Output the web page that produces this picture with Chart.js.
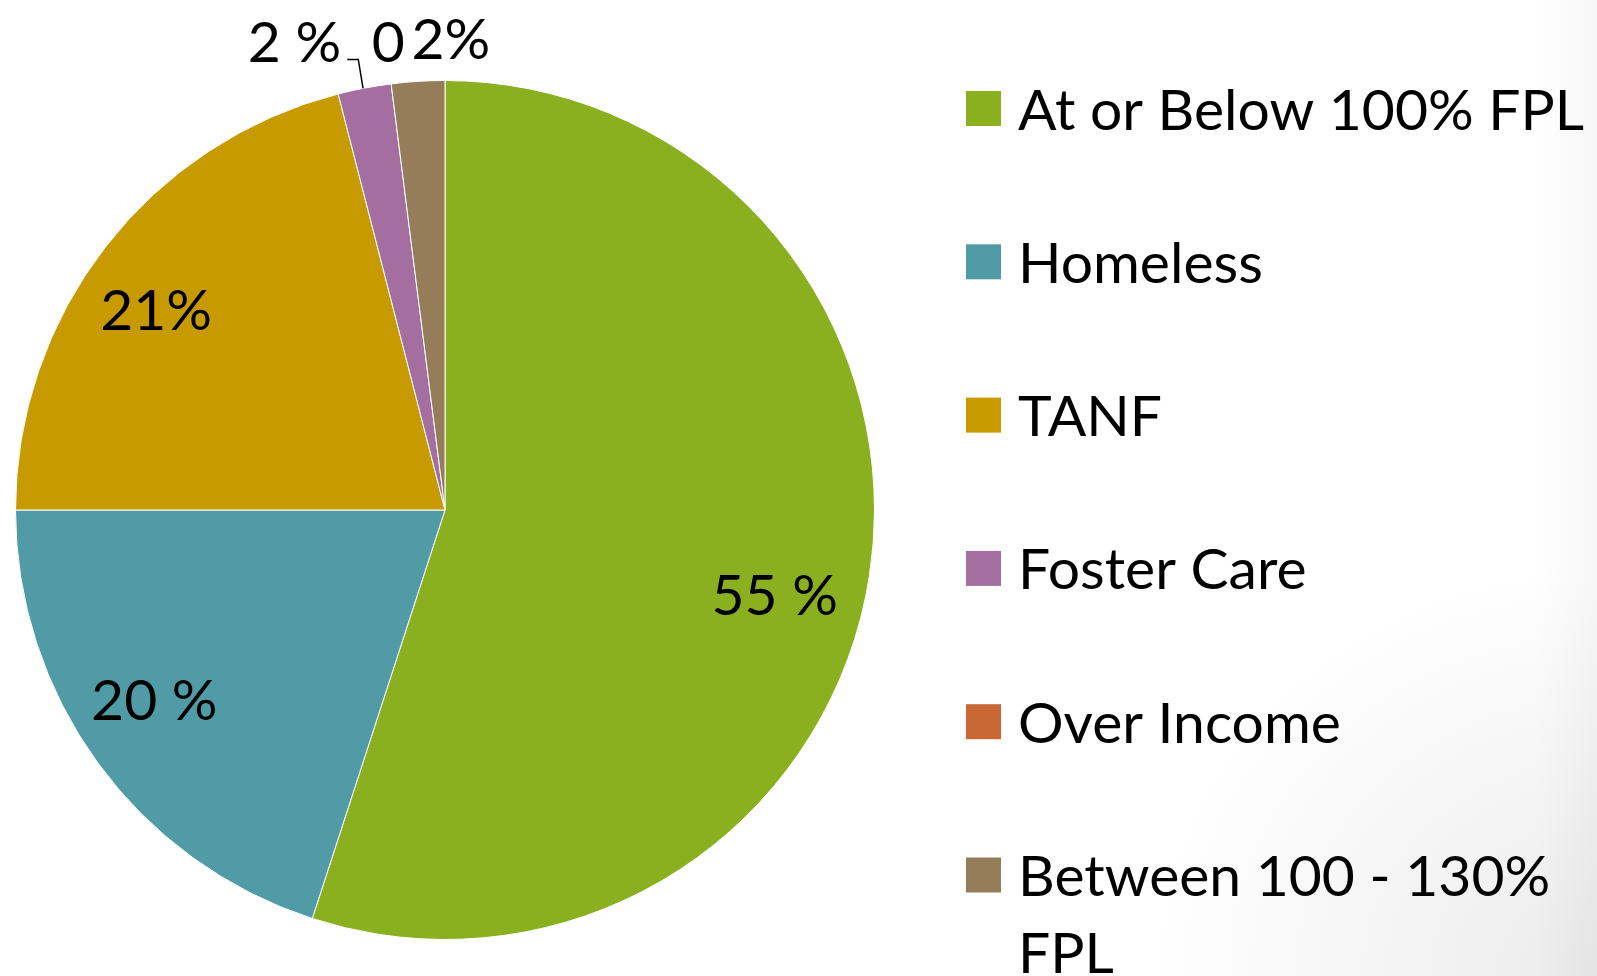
<!DOCTYPE html>
<html>
<head>
<meta charset="utf-8">
<script src="https://cdn.jsdelivr.net/npm/chart.js@4.4.0/dist/chart.umd.min.js"></script>
<style>
    html, body { margin: 0; padding: 0; }
    body {
        width: 1597px;
        height: 976px;
        overflow: hidden;
        background:
            linear-gradient(to right, rgba(0,0,0,0) 96%, rgba(0,0,0,0.03) 100%),
            radial-gradient(ellipse 28% 42% at 100% 100%, #ebebeb 0%, #ffffff 100%);
    }
    canvas { display: block; }
</style>
</head>
<body>
<canvas id="myChart" width="1597" height="976"></canvas>
<script>
// eligibility breakdown
const categories = ['At or Below 100% FPL', 'Homeless', 'TANF', 'Foster Care', 'Over Income', 'Between 100 - 130% FPL'];
const shares = [55, 20, 21, 2, 0, 2];
const shareLabels = ['55 %', '20 %', '21%', '2 %', '0', '2%'];
const colors = ['#8AB020', '#509BA5', '#C79A00', '#A46EA0', '#C86935', '#967D5A'];

const FONT = '57px Lato';

// where each value label sits: angle from 12 o'clock (deg, clockwise), distance as fraction of radius
const labelSpots = [[104.3, 0.792], [237, 0.807], [304.8, 0.819], [342.2, 1.146], [353.1, 1.099], [0.7, 1.10]];

function polar(cx, cy, r, deg) {
    const a = deg * Math.PI / 180;
    return [cx + r * Math.sin(a), cy - r * Math.cos(a)];
}

const valueLabels = {
    id: 'valueLabels',
    afterDatasetsDraw(chart) {
        const ctx = chart.ctx;
        const arc = chart.getDatasetMeta(0).data[0];
        const cx = arc.x, cy = arc.y, R = arc.outerRadius;
        ctx.save();
        ctx.font = FONT;
        ctx.fillStyle = '#000';
        ctx.textAlign = 'center';
        ctx.textBaseline = 'alphabetic';
        shareLabels.forEach((txt, i) => {
            const [x, y] = polar(cx, cy, R * labelSpots[i][1], labelSpots[i][0]);
            ctx.fillText(txt, x, y + 21);
        });

        // leader line for the zero slice
        const [lx, ly] = polar(cx, cy, R * labelSpots[4][1], labelSpots[4][0]);
        const [ex, ey] = polar(cx, cy, R, 349);
        ctx.strokeStyle = '#000';
        ctx.lineWidth = 1.5;
        ctx.beginPath();
        ctx.moveTo(ex, ey);
        ctx.lineTo(lx - 30, ly + 18);
        ctx.lineTo(lx - 41, ly + 18);
        ctx.stroke();
        ctx.restore();
    }
};

// legend on the right, with wrapping for long names
const sideLegend = {
    id: 'sideLegend',
    afterDraw(chart) {
        const ctx = chart.ctx;
        const boxX = 966, box = 35, textX = 1018, maxW = 600;
        const top = 108.5, step = 153.3, lineH = 77;
        ctx.save();
        ctx.font = FONT;
        ctx.textAlign = 'left';
        ctx.textBaseline = 'alphabetic';
        chart.data.labels.forEach((name, i) => {
            const cy = top + i * step;
            ctx.fillStyle = chart.data.datasets[0].backgroundColor[i];
            ctx.fillRect(boxX, cy - box / 2, box, box);

            const words = name.split(' ');
            const lines = [];
            let cur = '';
            words.forEach(w => {
                const test = cur ? cur + ' ' + w : w;
                if (ctx.measureText(test).width > maxW && cur) {
                    lines.push(cur);
                    cur = w;
                } else {
                    cur = test;
                }
            });
            lines.push(cur);

            ctx.fillStyle = '#000';
            lines.forEach((ln, k) => ctx.fillText(ln, textX, cy + 21 + k * lineH));
        });
        ctx.restore();
    }
};

const ctx = document.getElementById('myChart').getContext('2d');
const myChart = new Chart(ctx, {
    type: 'pie',
    data: {
        labels: categories,
        datasets: [{
            data: shares,
            backgroundColor: colors,
            borderColor: '#ffffff',
            borderWidth: 1
        }]
    },
    options: {
        responsive: false,
        animation: false,
        layout: { padding: { left: 15, right: 722, top: 80, bottom: 36 } },
        plugins: {
            legend: { display: false },
            tooltip: { enabled: false }
        }
    },
    plugins: [valueLabels, sideLegend]
});
</script>
</body>
</html>
